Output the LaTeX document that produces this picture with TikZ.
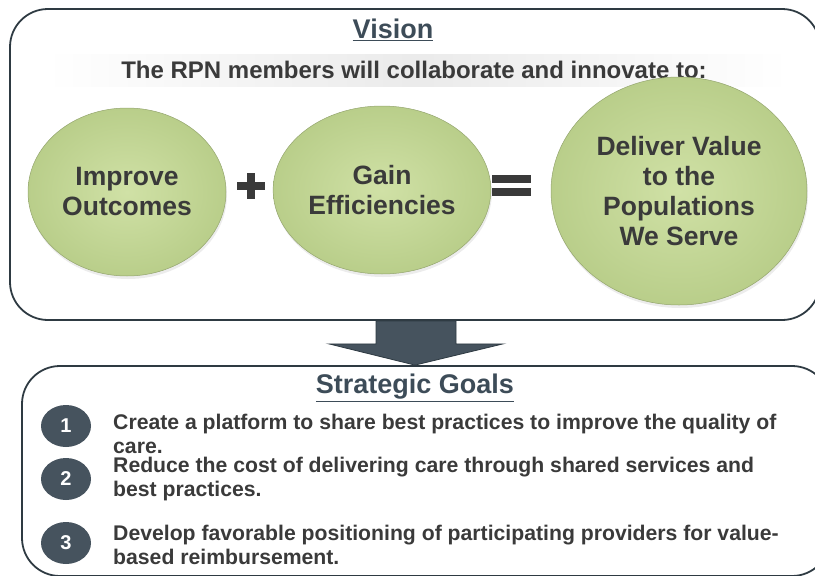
\documentclass[tikz,border=0pt]{standalone}
\usepackage{fontspec}
\setmainfont{Liberation Sans}
\usetikzlibrary{shapes.geometric,calc,shadows}
\definecolor{slate}{HTML}{46535E}
\definecolor{boxline}{HTML}{2E3A42}
\definecolor{txt}{HTML}{3A3A3A}
\definecolor{titlec}{HTML}{3D4C58}
\definecolor{grnin}{HTML}{D0E1A6}
\definecolor{grnout}{HTML}{B9CE8A}
\tikzset{
  panel/.style={draw=boxline, line width=1.8pt, rounded corners=38pt, rectangle},
  bubble/.style={ellipse, draw=grnout!80!black, line width=0.5pt,
    inner color=grnin, outer color=grnout, text=txt, align=center,
    font=\bfseries\fontsize{26.5}{30}\selectfont,
    drop shadow={opacity=0.15, shadow xshift=1pt, shadow yshift=-3pt}},
  numdot/.style={ellipse, fill=slate, minimum width=50pt, minimum height=42pt,
    inner sep=0pt, text=white, font=\bfseries\fontsize{20}{20}\selectfont},
  goaltext/.style={anchor=west, align=left, text=txt, inner sep=0pt,
    font=\bfseries\fontsize{21.2}{24}\selectfont},
  heading/.style={text=titlec, font=\bfseries\fontsize{27}{29}\selectfont},
  symb/.style={fill=txt}
}
\begin{document}
\begin{tikzpicture}[x=1pt,y=-1pt]
\useasboundingbox (0,0) rectangle (815,576);
\clip (0,0) rectangle (815,576);

% panels
\node[panel, minimum width=810pt, minimum height=311pt] (visionbox) at (415,164.5) {};
\node[panel, minimum width=808pt, minimum height=210pt] (goalsbox) at (426,471) {};

% vision title and subtitle
\node[heading] (vtitle) at (393,30) {\underline{Vision}};
\fill[left color=white, right color=white, middle color=black!8] (45,54) rectangle (790,86);
\node[text=txt, font=\bfseries\fontsize{24}{26}\selectfont] (vsub) at (414,70)
  {The RPN members will collaborate and innovate to:};

% bubbles
\node[bubble, minimum width=198pt, minimum height=168pt] (improve) at (127,192) {Improve\\Outcomes};
\node[bubble, minimum width=198pt, minimum height=168pt] (gain) at (382,190) {Gain\\Efficiencies};
\node[bubble, minimum width=256pt, minimum height=228pt] (deliver) at (679,191) {Deliver Value\\to the\\Populations\\We Serve};

% plus and equals
\coordinate (plus) at (251,185.5);
\fill[symb] ($(plus)+(-14,-4)$) rectangle ($(plus)+(14,4)$);
\fill[symb] ($(plus)+(-4,-13)$) rectangle ($(plus)+(4,13)$);
\coordinate (equals) at (511.5,185.5);
\fill[symb] ($(equals)+(-19.5,-10.5)$) rectangle ($(equals)+(19.5,-2.5)$);
\fill[symb] ($(equals)+(-19.5,2.5)$) rectangle ($(equals)+(19.5,10.5)$);

% block arrow
\coordinate (atop) at ($(visionbox.south)+(1,0)$);
\coordinate (atip) at ($(goalsbox.north)+(-11,0)$);
\filldraw[fill=slate, draw=boxline, line width=0.8pt]
  ($(atop)+(-40,0)$) -- ($(atop)+(40,0)$) -- ($(atop)+(40,23)$) -- ($(atop)+(87,23)$)
  -- (atip) -- ($(atop)+(-87,23)$) -- ($(atop)+(-40,23)$) -- cycle;

% goals
\node[heading] (gtitle) at (415,388) {\underline{Strategic Goals}};
\node[numdot] (n1) at (66,426) {1};
\node[numdot] (n2) at (66,479) {2};
\node[numdot] (n3) at (66,543) {3};
\node[goaltext] (g1) at (113,433.5) {Create a platform to share best practices to improve the quality of\\care.};
\node[goaltext] (g2) at (113,479.5) {Reduce the cost of delivering care through shared services and\\best practices.};
\node[goaltext] (g3) at (113,544.5) {Develop favorable positioning of participating providers for value-\\based reimbursement.};
\end{tikzpicture}
\end{document}
